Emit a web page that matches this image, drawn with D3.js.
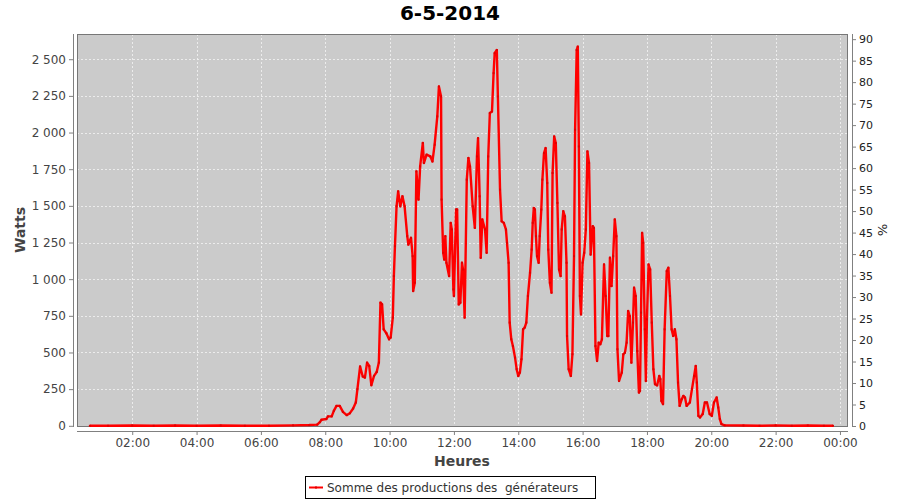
<!DOCTYPE html>
<html><head><meta charset="utf-8">
<script src="https://cdn.jsdelivr.net/npm/d3@7"></script>
<style>
html,body{margin:0;padding:0;background:#fff;}
text{font-family:"DejaVu Sans",sans-serif;}
</style></head>
<body><svg id="chart" width="900" height="500"></svg>
<script>
const chartTitle = "6-5-2014";
const seriesName = "Somme des productions des  générateurs";
const times = ["00:41","01:15","02:00","02:40","03:20","04:00","04:45","05:30","06:15","07:00","07:30","07:45",
"07:50","07:53","08:02","08:05","08:12","08:16","08:21","08:27","08:33","08:40","08:46","08:52","08:57",
"09:00","09:05","09:10","09:14","09:18","09:22","09:26","09:31","09:36","09:40","09:43","09:46","09:49","09:54","09:59",
"10:02","10:06","10:08","10:10","10:13","10:16","10:20","10:24","10:28","10:33","10:35","10:40","10:43","10:44","10:47","10:50","10:54","10:57",
"11:02","11:04","11:09","11:16","11:20","11:24","11:29","11:32","11:36","11:37","11:40","11:42","11:44","11:46","11:51","11:54","11:56","11:59",
"12:00","12:04","12:06","12:09","12:12","12:15","12:17","12:20","12:24","12:27","12:30","12:35","12:39","12:43","12:45","12:48","12:50","12:53","12:58",
"13:01","13:04","13:07","13:11","13:14","13:16","13:20","13:22","13:26","13:29","13:33","13:37","13:39","13:42","13:44","13:47","13:50","13:54","13:57",
"14:00","14:03","14:06","14:09","14:12","14:15","14:18","14:22","14:25","14:27","14:29","14:31","14:33","14:35","14:38","14:40","14:43","14:45","14:48","14:51","14:54","14:56","14:59",
"15:02","15:04","15:07","15:10","15:13","15:16","15:19","15:21","15:24","15:27","15:30","15:31","15:34","15:38","15:41","15:44","15:46","15:49","15:51","15:53","15:55","15:57",
"16:00","16:03","16:06","16:09","16:12","16:15","16:19","16:21","16:24","16:27","16:30","16:33","16:36","16:40","16:43","16:46","16:48","16:51","16:54","16:57",
"17:00","17:03","17:05","17:08","17:13","17:16","17:19","17:22","17:25","17:28","17:31","17:34","17:36","17:39","17:42","17:45","17:47","17:49","17:51","17:53","17:56","17:58",
"18:00","18:03","18:06","18:09","18:12","18:15","18:19","18:23","18:25","18:27","18:30","18:33","18:37","18:40","18:43","18:46","18:49","18:52","18:55","18:58",
"19:01","19:05","19:08","19:11","19:14","19:20","19:24","19:28","19:31","19:33","19:36","19:39","19:44","19:48","19:52","19:57",
"20:01","20:05","20:10","20:13","20:16","20:19","20:25","21:00","21:30","22:00","22:30","23:00","23:30","23:47"];
const watts = [0,0,2,0,2,0,2,0,0,3,5,8,
25,41,46,64,64,102,136,136,95,73,86,118,159,
250,404,336,329,431,408,277,340,367,431,840,828,658,631,590,
602,738,1021,1225,1497,1599,1497,1565,1497,1293,1236,1282,1157,919,976,1735,1543,1769,
1929,1792,1849,1837,1803,1917,2110,2314,2246,1543,1180,1134,1293,1112,1021,1384,1339,930,
885,1475,1475,828,840,1112,1066,738,1679,1826,1769,1497,1350,1837,1962,1565,1146,1407,1339,
1180,1837,2133,2144,2405,2541,2563,2246,1611,1395,1384,1339,1248,1112,704,590,544,465,386,
340,363,454,658,670,704,885,1044,1202,1384,1486,1475,1293,1157,1112,1293,1475,1679,1860,1894,1656,1202,976,
908,1724,1973,1928,1520,1066,1021,1339,1463,1429,1112,612,386,340,488,1157,2019,2563,2586,1905,885,760,
1112,1180,1339,1871,1793,1168,1361,1350,544,442,567,556,590,1100,885,612,612,1146,953,1157,
1407,1293,522,306,363,488,499,567,783,748,431,704,942,885,510,227,238,772,1316,1248,658,306,
726,1100,1066,704,386,284,276,340,318,170,148,658,1055,1078,885,658,613,658,590,295,
136,182,204,193,136,159,250,340,408,295,68,57,80,159,159,80,
68,159,193,125,46,12,3,2,0,3,0,2,0,0];
const leftTicks = [0,250,500,750,1000,1250,1500,1750,2000,2250,2500];
const rightTicks = [0,5,10,15,20,25,30,35,40,45,50,55,60,65,70,75,80,85,90];
const xLabel = "Heures", yLabel = "Watts", y2Label = "%";

const svg = d3.select("#chart");
const L = 77, R = 848, T = 34, B = 427;
const day = (hm, plus=0) => { const [h,m] = hm.split(":").map(Number); return new Date(2014,4,6+plus,h,m); };
const data = times.map((t,i)=>({t:day(t), v:watts[i]}));

const x = d3.scaleTime().domain([new Date(2014,4,6,0,17), new Date(2014,4,7,0,15)]).range([L,R]);
const y = d3.scaleLinear().domain([0,2672]).range([B-1.2,T]);
const y2 = d3.scaleLinear().domain([0,91.2]).range([B-1,T]);
const fr = d3.formatLocale({decimal:",",thousands:"\u202F",grouping:[3],currency:["","€"]});
const fmt = v => fr.format(",")(v).replace("\u202F"," ");

svg.append("rect").attr("x",L).attr("y",T).attr("width",R-L).attr("height",B-T).attr("fill","#cbcbcb");

const xTicks = d3.timeHour.every(2).range(new Date(2014,4,6,1,0), new Date(2014,4,7,0,16));
const g = svg.append("g");
g.selectAll("line.vx").data(xTicks).join("line")
  .attr("x1",d=>Math.round(x(d))+0.5).attr("x2",d=>Math.round(x(d))+0.5).attr("y1",T).attr("y2",B)
  .attr("stroke","#f4f4f4").attr("stroke-width",0.8).attr("stroke-dasharray","2,2");
g.selectAll("line.hy").data(leftTicks).join("line")
  .attr("y1",d=>Math.round(y(d))+0.5).attr("y2",d=>Math.round(y(d))+0.5).attr("x1",L).attr("x2",R)
  .attr("stroke","#f4f4f4").attr("stroke-width",0.8).attr("stroke-dasharray","2,2");

// plot outline (drawn beneath the series)
svg.append("rect").attr("x",L+0.5).attr("y",T+0.5).attr("width",R-L-1).attr("height",B-T-1)
  .attr("fill","none").attr("stroke","#777").attr("stroke-width",1);

svg.append("clipPath").attr("id","clip").append("rect").attr("x",L).attr("y",T).attr("width",R-L).attr("height",B-T);
const line = d3.line().x(d=>x(d.t)).y(d=>y(d.v));
svg.append("path").datum(data).attr("clip-path","url(#clip)").attr("d",line)
  .attr("fill","none").attr("stroke","#ff0000").attr("stroke-width",2.4).attr("stroke-linejoin","round");
svg.append("g").attr("clip-path","url(#clip)").selectAll("rect").data(data).join("rect")
  .attr("x",d=>x(d.t)-1).attr("y",d=>y(d.v)-1).attr("width",2).attr("height",2).attr("fill","#e00000");

const axColor = "#808080";
const xAxis = svg.append("g").attr("transform",`translate(0,431)`)
  .call(d3.axisBottom(x).tickValues(xTicks).tickFormat(d3.timeFormat("%H:%M")).tickSizeInner(4).tickSizeOuter(0).tickPadding(3));
const yAxis = svg.append("g").attr("transform",`translate(73,0)`)
  .call(d3.axisLeft(y).tickValues(leftTicks).tickFormat(fmt).tickSizeInner(4).tickSizeOuter(0).tickPadding(3));
const y2Axis = svg.append("g").attr("transform",`translate(852,0)`)
  .call(d3.axisRight(y2).tickValues(rightTicks).tickFormat(d3.format("d")).tickSizeInner(4).tickSizeOuter(0).tickPadding(3));
[xAxis,yAxis,y2Axis].forEach(a=>{
  a.select(".domain").attr("stroke",axColor);
  a.selectAll(".tick line").attr("stroke",axColor);
  a.selectAll("text").attr("font-family","DejaVu Sans").attr("font-size",12).attr("fill","#444");
});
y2Axis.selectAll("text").attr("fill","#222").attr("font-size",11);
xAxis.select(".domain").attr("d",`M${L},0.5H${R}`);
yAxis.select(".domain").attr("d",`M0.5,${T}V${B}`);
y2Axis.select(".domain").attr("d",`M0.5,${T}V${B}`);

svg.append("text").attr("x",450).attr("y",20).attr("text-anchor","middle")
  .attr("font-size",20).attr("font-weight","bold").attr("fill","#000").text(chartTitle);
svg.append("text").attr("x",462).attr("y",466).attr("text-anchor","middle")
  .attr("font-size",14).attr("font-weight","bold").attr("fill","#444").text(xLabel);
svg.append("text").attr("transform","translate(25,230) rotate(-90)").attr("text-anchor","middle")
  .attr("font-size",14).attr("font-weight","bold").attr("fill","#444").text(yLabel);
svg.append("text").attr("transform","translate(878,230) rotate(90)").attr("text-anchor","middle")
  .attr("font-size",13).attr("fill","#222").text(y2Label);

const lg = svg.append("g");
lg.append("rect").attr("x",305.5).attr("y",476.5).attr("width",290).attr("height",22)
  .attr("fill","#fff").attr("stroke","#000").attr("stroke-width",1);
lg.append("line").attr("x1",309).attr("x2",323).attr("y1",487.5).attr("y2",487.5)
  .attr("stroke","#ff0000").attr("stroke-width",2);
lg.append("rect").attr("x",315).attr("y",486.5).attr("width",2).attr("height",2).attr("fill","#e00000");
lg.append("text").attr("x",327).attr("y",492).attr("font-size",12).attr("fill","#333")
  .attr("xml:space","preserve").style("white-space","pre").text(seriesName);
</script>
</body></html>
